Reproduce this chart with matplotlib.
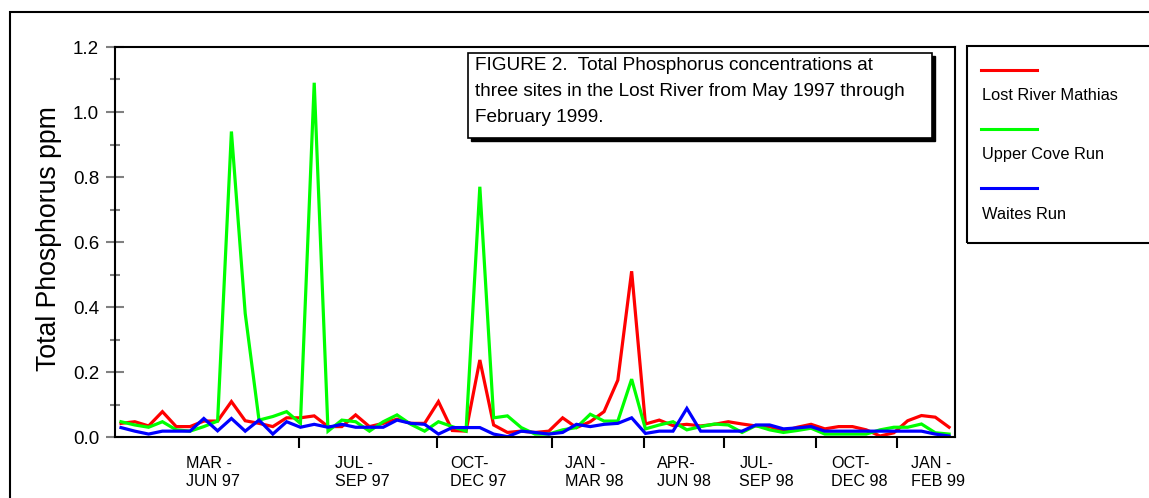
import matplotlib
matplotlib.use("Agg")
import matplotlib.pyplot as plt
from matplotlib.patches import Rectangle
from matplotlib.lines import Line2D
import numpy as np

##############################################################################
# Data (one value per sample)
lost_river = [0.042, 0.047, 0.034, 0.078, 0.032, 0.032, 0.049, 0.049, 0.109, 0.050,
              0.042, 0.032, 0.059, 0.059, 0.065, 0.032, 0.032, 0.068, 0.032, 0.042,
              0.055, 0.042, 0.042, 0.109, 0.020, 0.018, 0.237, 0.037, 0.014, 0.018,
              0.014, 0.018, 0.059, 0.029, 0.047, 0.078, 0.175, 0.510, 0.040, 0.052,
              0.035, 0.039, 0.034, 0.039, 0.047, 0.040, 0.034, 0.032, 0.018, 0.030,
              0.039, 0.025, 0.032, 0.032, 0.022, 0.003, 0.013, 0.050, 0.066, 0.061,
              0.030]
upper_cove = [0.047, 0.037, 0.030, 0.047, 0.022, 0.018, 0.032, 0.049, 0.940, 0.380,
              0.052, 0.063, 0.078, 0.042, 1.090, 0.018, 0.052, 0.047, 0.018, 0.047,
              0.068, 0.039, 0.018, 0.047, 0.032, 0.018, 0.770, 0.059, 0.065, 0.029,
              0.009, 0.009, 0.022, 0.029, 0.070, 0.049, 0.049, 0.178, 0.025, 0.037,
              0.047, 0.022, 0.032, 0.040, 0.037, 0.014, 0.035, 0.022, 0.014, 0.020,
              0.027, 0.009, 0.009, 0.009, 0.009, 0.022, 0.030, 0.030, 0.040, 0.013,
              0.009]
waites_run = [0.029, 0.018, 0.009, 0.018, 0.018, 0.018, 0.057, 0.019, 0.057, 0.018,
              0.052, 0.009, 0.047, 0.030, 0.039, 0.030, 0.039, 0.030, 0.030, 0.030,
              0.052, 0.042, 0.039, 0.009, 0.029, 0.029, 0.029, 0.009, 0.001, 0.018,
              0.014, 0.009, 0.014, 0.039, 0.032, 0.039, 0.042, 0.059, 0.011, 0.018,
              0.018, 0.088, 0.018, 0.018, 0.018, 0.018, 0.037, 0.037, 0.025, 0.028,
              0.032, 0.018, 0.018, 0.018, 0.018, 0.018, 0.018, 0.018, 0.018, 0.009,
              0.003]

series_names = ["Lost River Mathias", "Upper Cove Run", "Waites Run"]
series_colors = ["#ff0000", "#00ff00", "#0000ff"]

period_labels = ["MAR -\nJUN 97", "JUL -\nSEP 97", "OCT-\nDEC 97", "JAN -\nMAR 98",
                 "APR-\nJUN 98", "JUL-\nSEP 98", "OCT-\nDEC 98", "JAN -\nFEB 99"]
# where each period label starts, and the period boundaries (sample index units)
label_pos = [4.7, 15.5, 23.85, 32.2, 38.85, 44.8, 51.45, 57.25]
boundaries = [12.9, 22.9, 31.23, 37.9, 43.7, 50.36, 56.23]

title_text = ("FIGURE 2.  Total Phosphorus concentrations at\n"
              "three sites in the Lost River from May 1997 through\n"
              "February 1999.")

##############################################################################
plt.rcParams['font.family'] = ['Liberation Sans', 'DejaVu Sans']

W, H = 1149, 498
def fx(px):
    return px / W
def fy(py):
    return 1 - py / H

fig = plt.figure(figsize=(W / 100, H / 100), dpi=100)
ax = fig.add_axes([fx(115), fy(437), (955 - 115) / W, (437 - 47) / H])

x = np.arange(len(lost_river))
for vals, name, col in zip([lost_river, upper_cove, waites_run], series_names, series_colors):
    ax.plot(x, vals, color=col, lw=2.3, label=name, solid_joinstyle='miter')

ax.set_xlim(-0.435, 60.43)
ax.set_ylim(0, 1.2)

# y axis
ax.set_yticks(np.arange(0, 1.21, 0.2))
ax.set_yticks(np.arange(0.1, 1.2, 0.2), minor=True)
ax.yaxis.set_major_formatter(matplotlib.ticker.FormatStrFormatter('%.1f'))
ax.tick_params(axis='y', which='major', direction='inout', length=13, width=1.5,
               color='#808080', labelsize=13.5, pad=5)
ax.tick_params(axis='y', which='minor', direction='inout', length=6.5, width=1.5,
               color='#808080')
ax.set_ylabel("Total Phosphorus ppm", fontsize=19.2)
ax.yaxis.set_label_coords(-0.063, 0.51)

# x axis
ax.set_xticks(boundaries)
ax.set_xticklabels([])
ax.set_xticks(label_pos, minor=True)
ax.set_xticklabels(period_labels, minor=True, ha='left')
ax.tick_params(axis='x', which='major', direction='out', length=8, width=1.5, color='black')
ax.tick_params(axis='x', which='minor', length=0, labelsize=11.6, pad=13.5)
for t in ax.xaxis.get_minorticklabels():
    t.set_linespacing(1.3)

for s in ax.spines.values():
    s.set_linewidth(1.5)
    s.set_color('black')

# outer frame
fig.add_artist(Rectangle((fx(10), -0.1), 1.2, fy(12) + 0.1, fill=False, lw=1.5,
                         ec='black', transform=fig.transFigure))

# caption box with drop shadow
bw, bh = (932 - 468) / W, (138 - 53) / H
fig.add_artist(Rectangle((fx(471), fy(141)), bw, bh, fc='black', ec='black',
                         transform=fig.transFigure, zorder=5))
fig.add_artist(Rectangle((fx(468), fy(138)), bw, bh, fc='white', ec='black', lw=1.2,
                         transform=fig.transFigure, zorder=6))
fig.text(fx(475), fy(91.5), title_text, fontsize=13.7, va='center', ha='left',
         linespacing=1.72, zorder=7)

# legend box
fig.add_artist(Rectangle((fx(967), fy(243)), 1.0, (243 - 46) / H, fill=False, lw=1.5,
                         ec='black', transform=fig.transFigure))
for k, (name, col) in enumerate(zip(series_names, series_colors)):
    yl = 70 + 59 * k
    fig.add_artist(Line2D([fx(981), fx(1037)], [fy(yl), fy(yl)], color=col, lw=2.2,
                          transform=fig.transFigure))
    fig.text(fx(982), fy(yl + 26), name, fontsize=11.8, va='center', ha='left')

fig.savefig("out.png", dpi=100)
